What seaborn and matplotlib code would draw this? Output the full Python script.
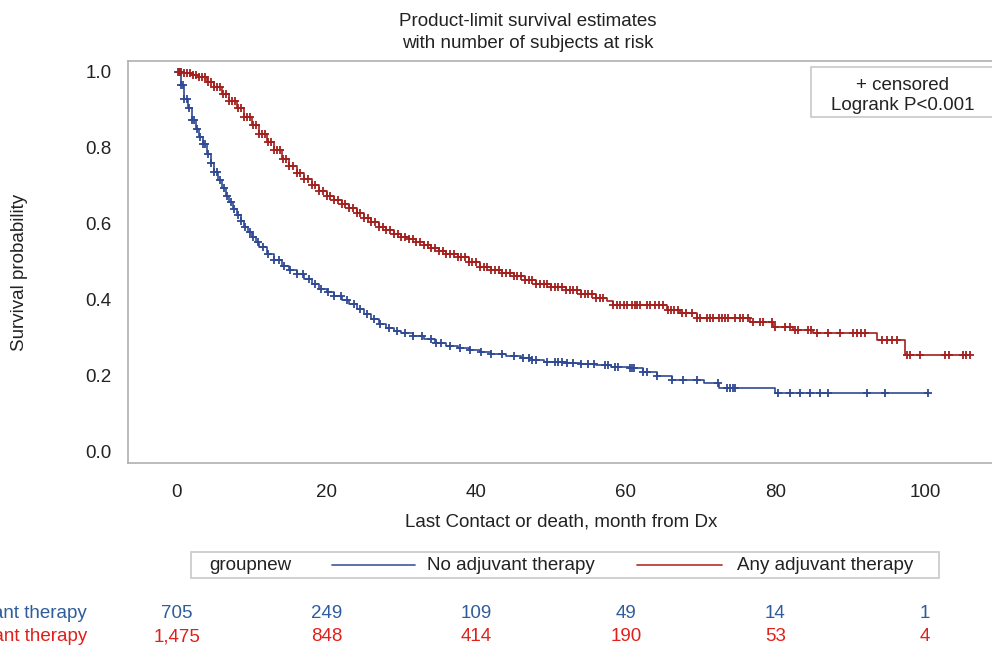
import numpy as np
import pandas as pd
import seaborn as sns
import matplotlib.pyplot as plt
from matplotlib.patches import Rectangle
from matplotlib.lines import Line2D

# survival steps (month, survival)
no_adj_t = [0, 0.5, 1.0, 1.5, 2.0, 2.5, 3.0, 3.5, 4.0, 4.5, 5.0, 5.5, 6.0, 6.5, 7.0, 7.5,
            8.0, 8.5, 9.0, 9.5, 10.0, 10.5, 11.0, 12.0, 13.0, 14.0, 15.0, 16.0, 17.0, 18.0,
            19.0, 20.0, 21.0, 22.0, 23.0, 24.0, 25.0, 26.0, 27.0, 28.0, 29.0, 30.0, 31.5,
            33.0, 34.5, 36.0, 37.5, 39.0, 40.5, 42.0, 44.0, 46.0, 47.5, 49.0, 52.0, 54.0,
            56.0, 58.0, 60.5, 62.3, 64.2, 66.2, 70.5, 72.5, 80.0, 100.4]
no_adj_s = [1.0, 0.965, 0.93, 0.905, 0.875, 0.85, 0.83, 0.81, 0.785, 0.76, 0.738, 0.715,
            0.695, 0.675, 0.657, 0.64, 0.625, 0.608, 0.592, 0.578, 0.565, 0.553, 0.54, 0.52,
            0.505, 0.49, 0.478, 0.468, 0.455, 0.442, 0.43, 0.42, 0.41, 0.40, 0.39, 0.377,
            0.363, 0.35, 0.338, 0.327, 0.318, 0.312, 0.306, 0.297, 0.288, 0.278, 0.273, 0.268,
            0.263, 0.258, 0.253, 0.247, 0.241, 0.236, 0.234, 0.232, 0.228, 0.223, 0.22, 0.21,
            0.20, 0.19, 0.182, 0.168, 0.155, 0.155]

any_adj_t = [0, 1.0, 2.0, 3.0, 4.0, 5.0, 6.0, 7.0, 8.0, 9.0, 10.0, 11.0, 12.0, 13.0, 14.0,
             15.0, 16.0, 17.0, 18.0, 19.0, 20.0, 21.0, 22.0, 23.0, 24.0, 25.0, 26.0, 27.0,
             28.0, 29.0, 30.0, 31.0, 32.0, 33.0, 34.0, 35.0, 36.0, 37.5, 39.0, 40.5, 42.0,
             43.5, 45.0, 46.5, 48.0, 50.0, 52.0, 54.0, 56.0, 57.5, 58.3, 65.5, 67.2, 69.5,
             76.6, 79.7, 82.4, 85.0, 93.6, 97.3, 106.0]
any_adj_s = [1.0, 0.997, 0.992, 0.987, 0.975, 0.96, 0.943, 0.925, 0.905, 0.882, 0.86, 0.838,
             0.815, 0.795, 0.772, 0.752, 0.735, 0.718, 0.702, 0.688, 0.675, 0.663, 0.652,
             0.641, 0.63, 0.617, 0.605, 0.593, 0.583, 0.575, 0.567, 0.56, 0.553, 0.545, 0.537,
             0.53, 0.522, 0.512, 0.50, 0.488, 0.478, 0.47, 0.462, 0.452, 0.442, 0.434, 0.426,
             0.416, 0.405, 0.397, 0.387, 0.374, 0.366, 0.353, 0.342, 0.329, 0.321, 0.313,
             0.295, 0.255, 0.255]

# censoring times
no_adj_cens = [0.2, 0.4, 0.6, 0.8, 1.0, 1.3, 1.6, 2.0, 2.3, 2.7, 3.1, 3.5, 3.8, 4.2, 4.6,
               5.0, 5.4, 5.8, 6.3, 6.7, 7.2, 7.6, 8.1, 8.6, 9.1, 9.7, 10.2, 10.8, 11.5, 12.2,
               13.0, 13.6, 14.3, 15.1, 16.0, 16.8, 17.6, 18.5, 19.3, 20.2, 21.0, 21.9, 22.7,
               23.6, 24.5, 25.4, 26.3, 27.2, 28.3, 29.4, 30.5, 31.6, 32.8, 34.0, 34.6, 35.3,
               36.5, 37.9, 39.2, 40.6, 42.0, 43.5, 45.0, 46.3, 47.0, 47.5, 48.0, 49.5, 50.5,
               51.0, 51.5, 52.2, 53.0, 54.0, 55.0, 55.8, 57.2, 57.6, 58.6, 59.0, 60.5, 60.8,
               61.1, 62.3, 62.8, 64.2, 66.2, 67.6, 69.5, 72.3, 73.5, 73.9, 74.3, 74.6, 80.3,
               82.0, 83.3, 84.6, 86.0, 87.0, 92.2, 94.7, 100.4]
any_adj_cens = [0.3, 0.6, 1.0, 1.4, 1.8, 2.2, 2.6, 3.0, 3.4, 3.8, 4.2, 4.6, 5.0, 5.4, 5.8,
                6.2, 6.6, 7.0, 7.4, 7.8, 8.2, 8.6, 9.0, 9.4, 9.8, 10.2, 10.6, 11.0, 11.4, 11.8,
                12.2, 12.6, 13.0, 13.4, 13.8, 14.2, 14.6, 15.0, 15.5, 16.0, 16.5, 17.0, 17.5,
                18.0, 18.5, 19.0, 19.5, 20.0, 20.5, 21.0, 21.5, 22.0, 22.5, 23.0, 23.5, 24.0,
                24.5, 25.0, 25.5, 26.0, 26.5, 27.0, 27.5, 28.0, 28.5, 29.0, 29.5, 30.0, 30.5,
                31.0, 31.5, 32.0, 32.5, 33.0, 33.5, 34.0, 34.5, 35.0, 35.5, 36.0, 36.5, 37.0,
                37.5, 38.0, 38.5, 39.0, 39.5, 40.0, 40.5, 41.0, 41.5, 42.0, 42.5, 43.0, 43.5,
                44.0, 44.5, 45.0, 45.5, 46.0, 46.5, 47.0, 47.5, 48.0, 48.5, 49.0, 49.5, 50.0,
                50.5, 51.0, 51.5, 52.0, 52.5, 53.0, 53.5, 54.0, 54.5, 55.0, 55.5, 56.0, 56.55,
                57.0, 58.3, 58.8, 59.2, 59.7, 60.1, 60.8, 61.2, 61.5, 61.9, 62.8, 63.3, 63.9,
                64.5, 65.0, 65.7, 66.0, 66.4, 67.0, 67.5, 68.1, 68.8, 69.5, 69.9, 70.8, 71.3,
                71.7, 72.4, 72.8, 73.3, 73.7, 74.6, 75.3, 75.7, 76.4, 77.0, 77.9, 78.4, 79.5,
                79.9, 81.3, 81.9, 82.6, 83.0, 84.4, 84.8, 85.5, 87.0, 88.6, 90.4, 90.9, 91.5,
                92.0, 94.2, 94.9, 95.6, 96.2, 97.6, 98.0, 99.3, 102.7, 103.2, 105.1, 105.5, 106.0]

# number at risk
risk_times = [0, 20, 40, 60, 80, 100]
no_adj_risk = ['705', '249', '109', '49', '14', '1']
any_adj_risk = ['1,475', '848', '414', '190', '53', '4']

groups = ['No adjuvant therapy', 'Any adjuvant therapy']
line_colors = ['#2F4A92', '#A3201E']
risk_colors = ['#2E5C9C', '#E0201A']

sns.set_style('white')
plt.rcParams['font.family'] = ['Liberation Sans', 'DejaVu Sans']
FS = 13.5
TXT = '#222222'

W, H = 992, 645
fig = plt.figure(figsize=(W / 100, H / 100), dpi=100)
ax = fig.add_axes([128 / W, 1 - 463 / H, (995 - 128) / W, (463 - 61) / H])

curves = [(no_adj_t, no_adj_s, no_adj_cens), (any_adj_t, any_adj_s, any_adj_cens)]
for (t, s, c), g, col in zip(curves, groups, line_colors):
    df = pd.DataFrame({'month': t, 'surv': s})
    sns.lineplot(data=df, x='month', y='surv', drawstyle='steps-post', color=col,
                 linewidth=1.2, ax=ax, estimator=None)
    t_arr = np.array(t)
    s_arr = np.array(s)
    idx = np.searchsorted(t_arr, np.array(c), side='right') - 1
    cdf = pd.DataFrame({'month': c, 'surv': s_arr[idx]})
    sns.scatterplot(data=cdf, x='month', y='surv', marker='+', color=col, s=32,
                    linewidth=1.3, ax=ax, zorder=3)

ax.set_xlim((128 - 177) / 7.48, (995 - 177) / 7.48)
ax.set_ylim((452 - 463) / 380, (452 - 61) / 380)
ax.set_xticks([0, 20, 40, 60, 80, 100])
ax.set_yticks([0, 0.2, 0.4, 0.6, 0.8, 1.0])
ax.set_yticklabels(['0.0', '0.2', '0.4', '0.6', '0.8', '1.0'])
ax.tick_params(axis='both', length=6, width=1.2, color='#A0A0A0', labelsize=FS,
               labelcolor=TXT)
ax.tick_params(axis='x', pad=9)
ax.tick_params(axis='y', pad=6)
for side in ['left', 'bottom', 'top', 'right']:
    ax.spines[side].set_color('#B0B0B0')
    ax.spines[side].set_linewidth(1.2)
ax.set_xlabel('Last Contact or death, month from Dx', fontsize=FS, color=TXT)
ax.xaxis.set_label_coords((561 - 128) / (995 - 128), -(522 - 463) / (463 - 61))
ax.set_ylabel('Survival probability', fontsize=FS, color=TXT)
ax.yaxis.set_label_coords(-(128 - 19) / (995 - 128), (463 - 272) / (463 - 61))
ax.xaxis.label.set_va('center')
ax.yaxis.label.set_va('center')

fig.text(528 / W, 1 - 22 / H, 'Product-limit survival estimates', ha='center', va='center',
         fontsize=FS, color=TXT)
fig.text(528 / W, 1 - 44 / H, 'with number of subjects at risk', ha='center', va='center',
         fontsize=FS, color=TXT)

# censor / logrank box
fig.patches.append(Rectangle((811 / W, 1 - 117 / H), (995 - 811) / W, 50 / H,
                             transform=fig.transFigure, facecolor='white',
                             edgecolor='#C8C8C8', linewidth=1.2))
fig.text(903 / W, 1 - 86 / H, '+ censored', ha='center', va='center', fontsize=FS,
         color=TXT)
fig.text(903 / W, 1 - 105 / H, 'Logrank P<0.001', ha='center', va='center', fontsize=FS,
         color=TXT)

# legend
fig.patches.append(Rectangle((191 / W, 1 - 578 / H), (939 - 191) / W, 26 / H,
                             transform=fig.transFigure, facecolor='white',
                             edgecolor='#C8C8C8', linewidth=1.2))
fig.text(209 / W, 1 - 566 / H, 'groupnew', ha='left', va='center', fontsize=FS, color=TXT)
for (x0, x1, xt), g, col in zip([(332, 415, 427), (637, 722, 737)], groups,
                                ['#4A66A8', '#B8403C']):
    fig.lines.append(Line2D([x0 / W, x1 / W], [1 - 565 / H, 1 - 565 / H],
                            transform=fig.transFigure, color=col, linewidth=1.3))
    fig.text(xt / W, 1 - 566 / H, g, ha='left', va='center', fontsize=FS, color=TXT)

# number at risk table (text baselines)
for row_y, g, vals, col in zip([618, 641], groups, [no_adj_risk, any_adj_risk], risk_colors):
    fig.text(87 / W, 1 - row_y / H, g, ha='right', va='baseline', fontsize=FS, color=col)
    for t, v in zip(risk_times, vals):
        xf = ax.transData.transform((t, 0))[0] / W
        fig.text(xf, 1 - row_y / H, v, ha='center', va='baseline', fontsize=FS, color=col)

fig.savefig('out.png', dpi=100)
